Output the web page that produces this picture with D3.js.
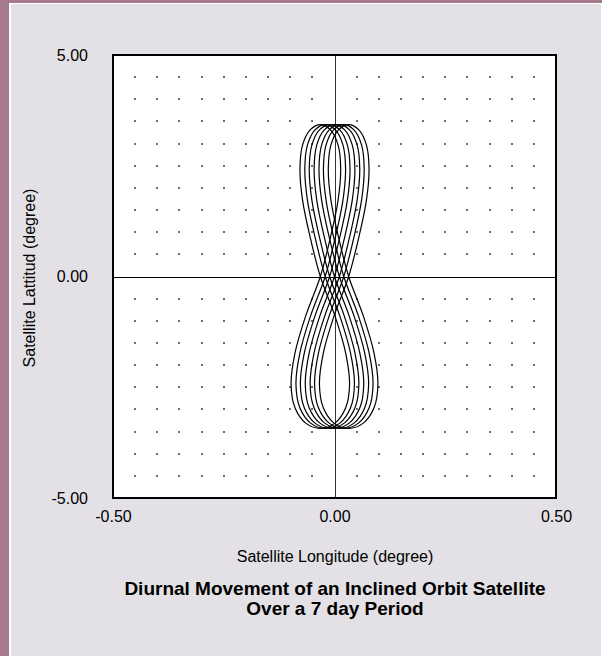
<!DOCTYPE html>
<html>
<head>
<meta charset="utf-8">
<script src="https://cdn.jsdelivr.net/npm/d3@7"></script>
<style>
  html, body { margin: 0; padding: 0; background: #fff; }
  svg { display: block; }
  text { font-family: "Liberation Sans", Arial, sans-serif; fill: #000; }
</style>
</head>
<body>
<div id="chart"></div>
<script>
// one day's figure-8 (relative longitude, latitude)
const loopLon = [0, 0.023, 0.040, 0.046, 0.040, 0.023, 0, -0.023, -0.040, -0.046, -0.040, -0.023,
                 0, 0.033, 0.057, 0.066, 0.057, 0.033, 0, -0.033, -0.057, -0.066, -0.057, -0.033];
const loopLat = [0, 0.89, 1.72, 2.43, 2.97, 3.31, 3.43, 3.31, 2.97, 2.43, 1.72, 0.89,
                 0, -0.89, -1.72, -2.43, -2.97, -3.31, -3.43, -3.31, -2.97, -2.43, -1.72, -0.89];
// longitude drift of each of the 7 days
const dayOffsets = [-0.032, -0.021, -0.011, 0.000, 0.011, 0.021, 0.032];

const xTicks = [-0.5, 0, 0.5];
const yTicks = [-5, 0, 5];

const W = 602, H = 656;
const svg = d3.select('#chart').append('svg')
  .attr('width', W)
  .attr('height', H);

// frame / background
svg.append('rect').attr('x', 0).attr('y', 0).attr('width', W).attr('height', H).attr('fill', '#fff');
svg.append('rect').attr('x', 0).attr('y', 0).attr('width', 9).attr('height', H).attr('fill', '#a67a8c');
svg.append('rect').attr('x', 0).attr('y', 0).attr('width', W).attr('height', 3).attr('fill', '#a67a8c');
svg.append('rect').attr('x', 11).attr('y', 4).attr('width', 590).attr('height', H - 4).attr('fill', '#e3e1e5');

const x = d3.scaleLinear().domain([-0.5, 0.5]).range([113, 556]);
const y = d3.scaleLinear().domain([-5, 5]).range([498, 55]);

// plot area
svg.append('rect')
  .attr('x', x(-0.5)).attr('y', y(5))
  .attr('width', x(0.5) - x(-0.5)).attr('height', y(-5) - y(5))
  .attr('fill', '#fff');

// dotted grid
const gx = d3.range(-9, 10).filter(i => i !== 0).map(i => i * 0.05);
const gy = d3.range(-9, 10).filter(i => i !== 0).map(i => i * 0.5);
const dots = [];
gx.forEach(a => gy.forEach(b => dots.push([a, b])));
svg.append('g').selectAll('rect')
  .data(dots)
  .enter()
  .append('rect')
  .attr('x', d => Math.round(x(d[0])) - 0.75)
  .attr('y', d => Math.round(y(d[1])) - 0.75)
  .attr('width', 1.5)
  .attr('height', 1.5)
  .attr('fill', '#000');

// zero lines
svg.append('line')
  .attr('x1', x(-0.5)).attr('x2', x(0.5))
  .attr('y1', Math.round(y(0)) + 0.5).attr('y2', Math.round(y(0)) + 0.5)
  .attr('stroke', '#000').attr('stroke-width', 1);
svg.append('line')
  .attr('x1', Math.round(x(0)) + 0.5).attr('x2', Math.round(x(0)) + 0.5)
  .attr('y1', y(5)).attr('y2', y(-5))
  .attr('stroke', '#333').attr('stroke-width', 1);

// loops
const line = d3.line()
  .x(d => x(d[0]))
  .y(d => y(d[1]))
  .curve(d3.curveCatmullRomClosed.alpha(0.5));

svg.append('g')
  .selectAll('path')
  .data(dayOffsets)
  .enter()
  .append('path')
  .attr('d', off => line(loopLon.map((v, i) => [v + off, loopLat[i]])))
  .attr('fill', 'none')
  .attr('stroke', '#000')
  .attr('stroke-width', 1.2);

// border
svg.append('rect')
  .attr('x', x(-0.5)).attr('y', y(5))
  .attr('width', x(0.5) - x(-0.5)).attr('height', y(-5) - y(5))
  .attr('fill', 'none')
  .attr('stroke', '#000')
  .attr('stroke-width', 2);

// axes
const fmt = d => d3.format('.2f')(d).replace('\u2212', '-');
const xAxis = svg.append('g')
  .attr('transform', `translate(0,${y(-5)})`)
  .call(d3.axisBottom(x).tickValues(xTicks).tickSize(0).tickPadding(13).tickFormat(fmt));
const yAxis = svg.append('g')
  .attr('transform', `translate(${x(-0.5)},0)`)
  .call(d3.axisLeft(y).tickValues(yTicks).tickSize(0).tickPadding(25).tickFormat(fmt));
[xAxis, yAxis].forEach(g => {
  g.select('.domain').remove();
  g.selectAll('text')
    .style('font-family', '"Liberation Sans", Arial, sans-serif')
    .style('font-size', '16px')
    .attr('fill', '#000');
});

// titles
svg.append('text')
  .attr('x', 335).attr('y', 562)
  .attr('text-anchor', 'middle')
  .style('font-size', '16px')
  .text('Satellite Longitude (degree)');

svg.append('text')
  .attr('transform', 'translate(35,278) rotate(-90)')
  .attr('text-anchor', 'middle')
  .style('font-size', '16px')
  .text('Satellite Lattitud (degree)');

svg.append('text')
  .attr('x', 335).attr('y', 595)
  .attr('text-anchor', 'middle')
  .style('font-size', '19px')
  .style('font-weight', 'bold')
  .text('Diurnal Movement of an Inclined Orbit Satellite');
svg.append('text')
  .attr('x', 335).attr('y', 615)
  .attr('text-anchor', 'middle')
  .style('font-size', '19px')
  .style('font-weight', 'bold')
  .text('Over a 7 day Period');
</script>
</body>
</html>
